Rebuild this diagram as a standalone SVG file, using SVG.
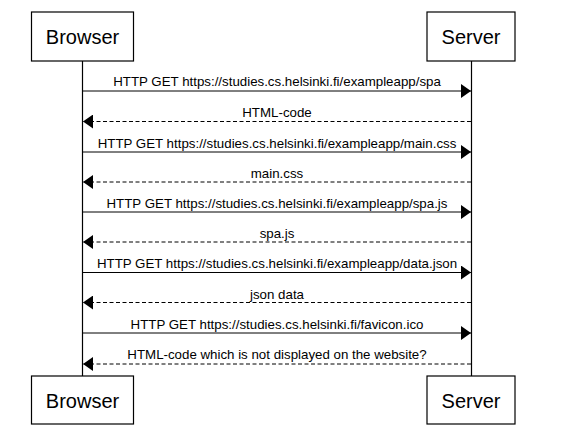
<svg xmlns="http://www.w3.org/2000/svg" width="569" height="434" viewBox="0 0 569 434">
<style>
.box{fill:#fff;stroke:#000;stroke-width:1.2}
.life{stroke:#000;stroke-width:1.2}
.pt{font-family:"Liberation Sans",Arial,sans-serif;font-size:20px;text-anchor:middle;fill:#000}
.msg{stroke:#000;stroke-width:1;fill:none}
.dash{stroke-dasharray:4,2.5}
.lbl{font-family:"Liberation Sans",Arial,sans-serif;font-size:13.3px;text-anchor:middle;fill:#000}
</style>
<defs>
<marker id="ah" viewBox="0 0 10 14" refX="10" refY="7" markerWidth="10" markerHeight="14" markerUnits="userSpaceOnUse" orient="auto">
<path d="M0,0 L10,7 L0,14 Z" fill="#000"/>
</marker>
</defs>
<g id="lifelines">
<line class="life" x1="82.5" y1="61" x2="82.5" y2="376"/>
<line class="life" x1="471.5" y1="61" x2="471.5" y2="376"/>
</g>
<g id="browser-top"><rect class="box" x="31.5" y="12" width="102" height="49"/><text class="pt" x="82.5" y="43.5">Browser</text></g>
<g id="server-top"><rect class="box" x="427" y="12" width="88" height="49"/><text class="pt" x="471" y="43.5">Server</text></g>
<g id="browser-bottom"><rect class="box" x="31.5" y="376" width="102" height="48"/><text class="pt" x="82.5" y="407.5">Browser</text></g>
<g id="server-bottom"><rect class="box" x="427" y="376" width="88" height="48"/><text class="pt" x="471" y="407.5">Server</text></g>
<g id="connectors">
<line class="msg" x1="82.5" y1="91" x2="471" y2="91" marker-end="url(#ah)"/>
<line class="msg dash" x1="471" y1="121.5" x2="83" y2="121.5" marker-end="url(#ah)"/>
<line class="msg" x1="82.5" y1="152" x2="471" y2="152" marker-end="url(#ah)"/>
<line class="msg dash" x1="471" y1="182" x2="83" y2="182" marker-end="url(#ah)"/>
<line class="msg" x1="82.5" y1="212" x2="471" y2="212" marker-end="url(#ah)"/>
<line class="msg dash" x1="471" y1="242" x2="83" y2="242" marker-end="url(#ah)"/>
<line class="msg" x1="82.5" y1="272.5" x2="471" y2="272.5" marker-end="url(#ah)"/>
<line class="msg dash" x1="471" y1="302.5" x2="83" y2="302.5" marker-end="url(#ah)"/>
<line class="msg" x1="82.5" y1="333" x2="471" y2="333" marker-end="url(#ah)"/>
<line class="msg dash" x1="471" y1="364" x2="83" y2="364" marker-end="url(#ah)"/>
<text class="lbl" x="277" y="86">HTTP GET https://studies.cs.helsinki.fi/exampleapp/spa</text>
<text class="lbl" x="277" y="117">HTML-code</text>
<text class="lbl" x="277" y="147.5">HTTP GET https://studies.cs.helsinki.fi/exampleapp/main.css</text>
<text class="lbl" x="277" y="178">main.css</text>
<text class="lbl" x="277" y="208">HTTP GET https://studies.cs.helsinki.fi/exampleapp/spa.js</text>
<text class="lbl" x="277" y="238">spa.js</text>
<text class="lbl" x="277" y="268">HTTP GET https://studies.cs.helsinki.fi/exampleapp/data.json</text>
<text class="lbl" x="277" y="298.5">json data</text>
<text class="lbl" x="277" y="328.5">HTTP GET https://studies.cs.helsinki.fi/favicon.ico</text>
<text class="lbl" x="277" y="359">HTML-code which is not displayed on the website?</text>
</g>
</svg>
